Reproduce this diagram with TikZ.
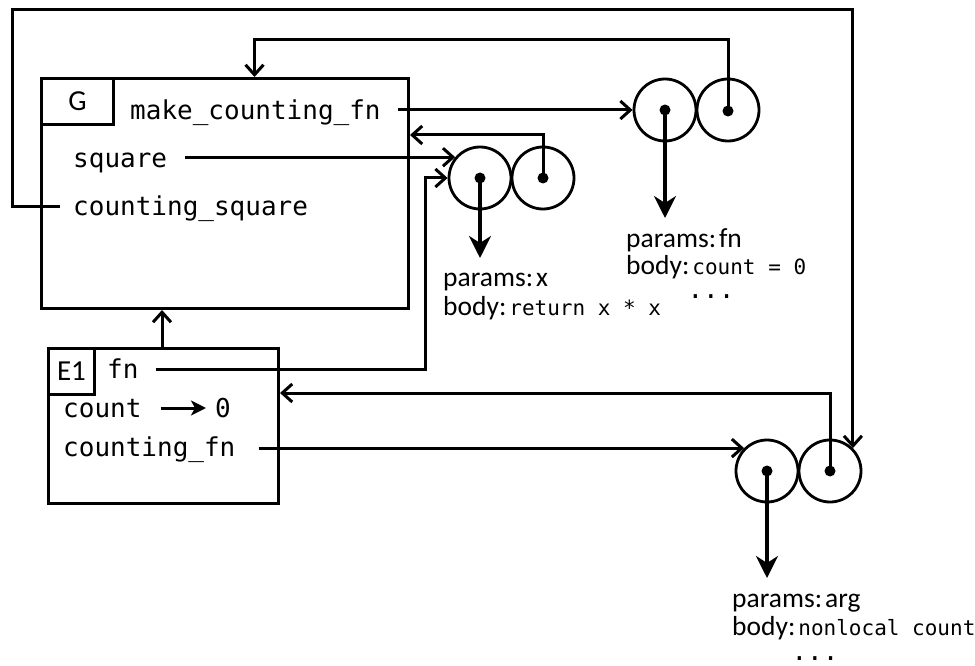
\documentclass[tikz,border=0pt]{standalone}
\usepackage{fontspec}
\setmainfont{Carlito}
\setmonofont{DejaVu Sans Mono}
\usetikzlibrary{arrows.meta}
\newcommand\codetxt[1]{{\ttfamily\fontsize{21}{26}\selectfont #1}}
\begin{document}
\begin{tikzpicture}[x=1pt,y=-1pt,
  frame/.style={draw, line width=3pt, inner sep=0pt, anchor=north west},
  tagbox/.style={draw, line width=3pt, inner sep=0pt, anchor=north west, font=\fontsize{29}{32}\selectfont},
  var/.style={anchor=west, inner sep=0pt, font=\ttfamily\fontsize{26}{30}\selectfont, text height=23.4pt, text depth=3.9pt},
  ball/.style={circle, draw, line width=2.8pt, minimum size=62pt, inner sep=0pt},
  dot/.style={circle, fill, minimum size=11pt, inner sep=0pt},
  lbl/.style={anchor=base west, inner sep=0pt, font=\fontsize{27.5}{30}\selectfont},
  ell/.style={anchor=base, inner sep=0pt, font=\ttfamily\fontsize{26}{30}\selectfont},
  conn/.style={line width=3pt, -{Straight Barb[length=10pt,width=18pt,line width=3pt]}},
  short/.style={line width=3pt, -{Stealth[length=15pt,width=15pt,inset=4pt]}},
  down/.style={line width=3.2pt, -{Stealth[length=22pt,width=22pt,inset=7pt]}}
]
\useasboundingbox (0,0) rectangle (975,666);

% frames
\node[frame, minimum width=367pt, minimum height=230pt] (G) at (40,77) {};
\node[tagbox, minimum width=72pt, minimum height=46pt] (Gt) at (40,77) {G};
\node[frame, minimum width=230pt, minimum height=155pt] (E1) at (47,347) {};
\node[tagbox, minimum width=46pt, minimum height=46pt] (E1t) at (47,347) {E1};

% frame variables
\node[var] (mcf) at (130,110) {make\_counting\_fn};
\node[var] (sq) at (73,158) {square};
\node[var] (cs) at (73,206) {counting\_square};
\node[var] (fn) at (107,369) {fn};
\node[var] (cnt) at (63,408) {count};
\node[var] (zero) at (215,408) {0};
\node[var] (cfn) at (63,447) {counting\_fn};

% function objects
\node[ball] (p1l) at (665,110) {};
\node[ball] (p1r) at (728,110) {};
\node[dot] (d1l) at (665,110) {};
\node[dot] (d1r) at (728,111) {};
\node[ball] (p2l) at (480,178) {};
\node[ball] (p2r) at (543,178) {};
\node[dot] (d2l) at (480,178) {};
\node[dot] (d2r) at (543,178) {};
\node[ball] (p3l) at (767,471) {};
\node[ball] (p3r) at (830,471) {};
\node[dot] (d3l) at (767,471) {};
\node[dot] (d3r) at (830,471) {};

% function texts
\node[lbl] (pa1) at (626,247) {params:\hspace{3pt}fn};
\node[lbl] (bo1) at (626,274) {body:\hspace{3pt}\codetxt{count = 0}};
\node[ell] (el1) at (711,298) {...};
\node[lbl] (pa2) at (443,286) {params:\hspace{3pt}x};
\node[lbl] (bo2) at (443,315) {body:\hspace{3pt}\codetxt{return x * x}};
\node[lbl] (pa3) at (732,607) {params:\hspace{3pt}arg};
\node[lbl] (bo3) at (732,635) {body:\hspace{3pt}\codetxt{nonlocal count}};
\node[ell] (el3) at (815,660) {...};

% helper coordinates
\coordinate (a1) at (665,218);
\coordinate (a2) at (480,258);
\coordinate (a3) at (767,578);
\coordinate (sqs) at ([xshift=18pt]sq.east);
\coordinate (cfns) at ([xshift=23pt]cfn.east);
\coordinate (fns) at ([xshift=17pt]fn.east);
\coordinate (css) at ([xshift=-13pt]cs.west);

% connectors
\draw[conn] ([xshift=17pt]mcf.east) -- (p1l.west);
\draw[conn] (d1r.center) -- (d1r.center |- 0,40) -| ([xshift=29.5pt]G.north);
\draw[conn] (sqs |- p2l.140) -- (p2l.140);
\draw[conn] (d2r.center) |- (G.east |- 0,135);
\draw[conn] (fns) -| (p2l.west -| 425,0) -- (p2l.west);
\draw[conn] (css) -| (12,10) -| (p3r.north east);
\draw[conn] (E1.north -| 162,0) -- (G.south -| 162,0);
\draw[conn] (d3r.center) |- (E1.east |- 0,393);
\draw[conn] (cfns |- p3l.135) -- (p3l.135);
\draw[short] ([xshift=19pt]cnt.east) -- ([xshift=-9pt]zero.west);

\draw[down] (d1l.center) -- (a1);
\draw[down] (d2l.center) -- (a2);
\draw[down] (d3l.center) -- (a3);
\end{tikzpicture}
\end{document}
